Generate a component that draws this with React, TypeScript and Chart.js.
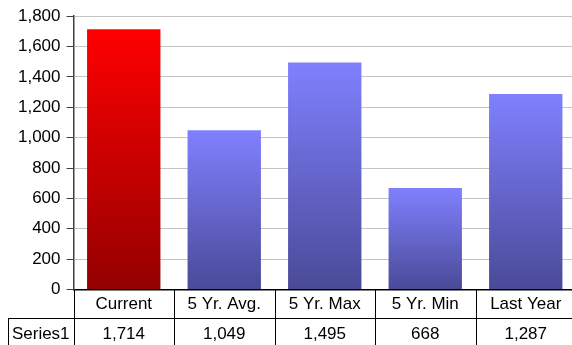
import React, { useEffect, useRef } from "react";
import { Chart, registerables } from "chart.js";

Chart.register(...registerables);

const categories = ["Current", "5 Yr. Avg.", "5 Yr. Max", "5 Yr. Min", "Last Year"];
const seriesName = "Series1";
const seriesValues = [1714, 1049, 1495, 668, 1287];
const yMax = 1800;
const yStep = 200;

const FONT = "Liberation Sans, Arial, sans-serif";
const fmt = (v: number) => v.toLocaleString("en-US");

const tablePlugin = {
  id: "dataTable",
  afterDraw(chart: any) {
    const { ctx, chartArea, scales } = chart;
    const x = scales.x;
    const bottom = chartArea.bottom;
    const rowH = 28.5;
    const row1 = bottom + rowH;
    const canvasH = chart.height;
    const n = categories.length;
    ctx.save();
    ctx.strokeStyle = "#000";
    ctx.lineWidth = 1;
    ctx.beginPath();
    // horizontal line between rows
    ctx.moveTo(8, Math.round(row1) + 0.5);
    ctx.lineTo(chart.width, Math.round(row1) + 0.5);
    // left border of series label cell
    ctx.moveTo(8.5, Math.round(row1));
    ctx.lineTo(8.5, canvasH);
    // column boundaries
    for (let i = 0; i <= n; i++) {
      const px = i === 0 ? chartArea.left : (x.getPixelForValue(i - 1) + x.getPixelForValue(i)) / 2;
      const xx = i === n ? chartArea.right : px;
      ctx.moveTo(Math.round(xx) + 0.5, bottom);
      ctx.lineTo(Math.round(xx) + 0.5, canvasH);
    }
    ctx.stroke();

    ctx.fillStyle = "#000";
    ctx.font = `17px ${FONT}`;
    ctx.textAlign = "center";
    ctx.textBaseline = "middle";
    const y0 = (bottom + row1) / 2 + 1;
    const y1 = row1 + 16;
    categories.forEach((c, i) => {
      const cx = x.getPixelForValue(i);
      ctx.fillText(c, cx, y0);
      ctx.fillText(fmt(seriesValues[i]), cx, y1);
    });
    ctx.fillText(seriesName, (8 + chartArea.left) / 2, y1);
    ctx.restore();
  },
};

function barColor(ctx: any) {
  const chart = ctx.chart;
  const top = ["#ff0000", "#8080ff"];
  const bot = ["#940000", "#4a4a98"];
  const k = ctx.dataIndex === 0 ? 0 : 1;
  const ys = chart.scales && chart.scales.y;
  if (!chart.chartArea || !ys) return top[k];
  const v = seriesValues[ctx.dataIndex] ?? 0;
  const yTop = ys.getPixelForValue(v);
  const yBot = ys.getPixelForValue(0);
  const g = chart.ctx.createLinearGradient(0, yTop, 0, yBot);
  g.addColorStop(0, top[k]);
  g.addColorStop(1, bot[k]);
  return g;
}

export default function App() {
  const ref = useRef<HTMLCanvasElement>(null);
  useEffect(() => {
    if (!ref.current) return;
    const chart = new Chart(ref.current, {
      type: "bar",
      data: {
        labels: categories,
        datasets: [
          {
            label: seriesName,
            data: seriesValues,
            backgroundColor: barColor as any,
            borderWidth: 0,
            barPercentage: 0.73,
            categoryPercentage: 1,
          },
        ],
      },
      options: {
        responsive: false,
        animation: false,
        devicePixelRatio: 1,
        events: [],
        layout: { padding: { top: 16, left: 0, right: 4, bottom: 0 } },
        plugins: { legend: { display: false }, tooltip: { enabled: false } },
        scales: {
          x: {
            display: true,
            ticks: { display: false },
            grid: { display: false },
            border: { display: true, color: "#000", width: 1.5 },
            afterFit: (s: any) => {
              s.height = 55.5;
            },
          },
          y: {
            min: 0,
            max: yMax,
            ticks: {
              stepSize: yStep,
              color: "#000",
              font: { family: FONT, size: 17 },
              padding: 6,
              callback: (v: any) => fmt(Number(v)),
            },
            grid: { color: "#c4c4c4", lineWidth: 1, tickLength: 7, tickColor: "#404040" },
            border: { display: true, color: "#404040", width: 1.5 },
            afterFit: (s: any) => {
              s.width = 73.5;
            },
          },
        },
      },
      plugins: [tablePlugin],
    });
    return () => chart.destroy();
  }, []);
  return (
    <div style={{ position: "fixed", left: 0, top: 0, width: 572, height: 345, overflow: "hidden", background: "#fff" }}>
      <canvas ref={ref} width={580} height={345} style={{ display: "block", width: 580, height: 345 }} />
    </div>
  );
}
